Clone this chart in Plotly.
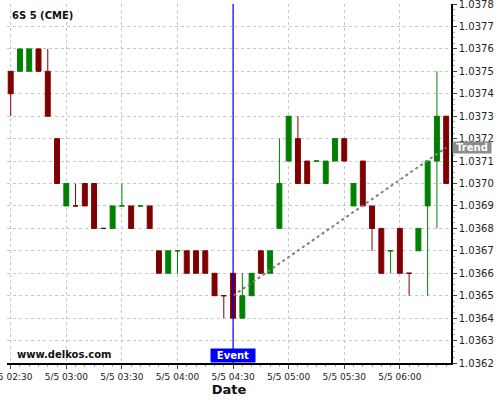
import plotly.graph_objects as go

times = [
    "2024-05-05 02:30", "2024-05-05 02:35", "2024-05-05 02:40", "2024-05-05 02:45",
    "2024-05-05 02:50", "2024-05-05 02:55", "2024-05-05 03:00", "2024-05-05 03:05",
    "2024-05-05 03:10", "2024-05-05 03:15", "2024-05-05 03:20", "2024-05-05 03:25",
    "2024-05-05 03:30", "2024-05-05 03:35", "2024-05-05 03:40", "2024-05-05 03:45",
    "2024-05-05 03:50", "2024-05-05 03:55", "2024-05-05 04:00", "2024-05-05 04:05",
    "2024-05-05 04:10", "2024-05-05 04:15", "2024-05-05 04:20", "2024-05-05 04:25",
    "2024-05-05 04:30", "2024-05-05 04:35", "2024-05-05 04:40", "2024-05-05 04:45",
    "2024-05-05 04:50", "2024-05-05 04:55", "2024-05-05 05:00", "2024-05-05 05:05",
    "2024-05-05 05:10", "2024-05-05 05:15", "2024-05-05 05:20", "2024-05-05 05:25",
    "2024-05-05 05:30", "2024-05-05 05:35", "2024-05-05 05:40", "2024-05-05 05:45",
    "2024-05-05 05:50", "2024-05-05 05:55", "2024-05-05 06:00", "2024-05-05 06:05",
    "2024-05-05 06:10", "2024-05-05 06:15", "2024-05-05 06:20", "2024-05-05 06:25",
]
opens = [1.0375, 1.0375, 1.0375, 1.0376, 1.0375, 1.0372, 1.0369, 1.0369,
         1.0370, 1.0370, 1.0368, 1.0368, 1.0369, 1.0369, 1.0369, 1.0369,
         1.0367, 1.0366, 1.0367, 1.0367, 1.0367, 1.0367, 1.0366, 1.0365,
         1.0366, 1.0364, 1.0365, 1.0367, 1.0366, 1.0368, 1.0371, 1.0372,
         1.0371, 1.0371, 1.0370, 1.0371, 1.0372, 1.0369, 1.0371, 1.0369,
         1.0368, 1.0367, 1.0368, 1.0366, 1.0367, 1.0369, 1.0371, 1.0373]
highs = [1.0375, 1.0376, 1.0376, 1.0376, 1.0376, 1.0372, 1.0370, 1.0370,
         1.0370, 1.0370, 1.0368, 1.0369, 1.0370, 1.0369, 1.0369, 1.0369,
         1.0367, 1.0367, 1.0367, 1.0367, 1.0367, 1.0367, 1.0366, 1.0365,
         1.0366, 1.0366, 1.0366, 1.0367, 1.0367, 1.0372, 1.0373, 1.0373,
         1.0371, 1.0371, 1.0371, 1.0372, 1.0372, 1.0370, 1.0371, 1.0369,
         1.0368, 1.0367, 1.0368, 1.0366, 1.0368, 1.0371, 1.0375, 1.0373]
lows = [1.0373, 1.0375, 1.0375, 1.0375, 1.0373, 1.0370, 1.0369, 1.0369,
        1.0369, 1.0368, 1.0368, 1.0368, 1.0369, 1.0368, 1.0369, 1.0368,
        1.0366, 1.0366, 1.0366, 1.0366, 1.0366, 1.0366, 1.0365, 1.0364,
        1.0364, 1.0364, 1.0365, 1.0366, 1.0366, 1.0368, 1.0371, 1.0370,
        1.0370, 1.0371, 1.0370, 1.0371, 1.0371, 1.0369, 1.0369, 1.0367,
        1.0366, 1.0366, 1.0366, 1.0365, 1.0367, 1.0365, 1.0368, 1.0370]
closes = [1.0374, 1.0376, 1.0376, 1.0375, 1.0373, 1.0370, 1.0370, 1.0369,
          1.0369, 1.0368, 1.0368, 1.0369, 1.0369, 1.0368, 1.0369, 1.0368,
          1.0366, 1.0367, 1.0367, 1.0366, 1.0366, 1.0366, 1.0365, 1.0365,
          1.0364, 1.0365, 1.0366, 1.0366, 1.0367, 1.0370, 1.0373, 1.0370,
          1.0370, 1.0371, 1.0371, 1.0372, 1.0371, 1.0370, 1.0369, 1.0368,
          1.0366, 1.0367, 1.0366, 1.0366, 1.0368, 1.0371, 1.0373, 1.0370]
# candle colour: "g" = up (green), "r" = down (red)
direction = ["r", "g", "g", "r", "r", "r", "g", "r",
             "r", "r", "r", "g", "g", "r", "g", "r",
             "r", "g", "g", "r", "r", "r", "r", "r",
             "r", "g", "g", "r", "g", "g", "g", "r",
             "r", "g", "g", "g", "r", "g", "r", "r",
             "r", "g", "r", "r", "g", "g", "g", "r"]

trend_x = ["2024-05-05 04:30", "2024-05-05 06:25"]
trend_y = [1.03650, 1.03716]
event_time = "2024-05-05 04:30"
y_ticks = [1.0362, 1.0363, 1.0364, 1.0365, 1.0366, 1.0367, 1.0368, 1.0369,
           1.0370, 1.0371, 1.0372, 1.0373, 1.0374, 1.0375, 1.0376, 1.0377, 1.0378]

GREEN = "#008000"
RED = "#800000"

fig = go.Figure()

fig.add_trace(go.Scatter(
    x=trend_x, y=trend_y, mode="lines",
    line=dict(color="#808080", width=2, dash="dot"),
    hoverinfo="skip", showlegend=False,
))

for key, col in (("g", GREEN), ("r", RED)):
    idx = [i for i, d in enumerate(direction) if d == key]
    fig.add_trace(go.Candlestick(
        x=[times[i] for i in idx],
        open=[opens[i] for i in idx],
        high=[highs[i] for i in idx],
        low=[lows[i] for i in idx],
        close=[closes[i] for i in idx],
        increasing=dict(line=dict(color=col, width=1), fillcolor=col),
        decreasing=dict(line=dict(color=col, width=1), fillcolor=col),
        whiskerwidth=0,
        showlegend=False,
    ))

fig.add_shape(type="line", xref="x", yref="paper", x0=event_time, x1=event_time,
              y0=0, y1=1, line=dict(color="#0000ff", width=1.2), layer="above")

fig.add_annotation(x=event_time, xref="x", y=0, yref="paper", yanchor="bottom",
                   text="<b>Event</b>", showarrow=False, bgcolor="#0000ff",
                   font=dict(color="white", size=10, family="DejaVu Sans"),
                   width=44, height=13, borderpad=0)

fig.add_annotation(x=1, xref="paper", xanchor="left", xshift=1, y=trend_y[1], yref="y",
                   text="<b>Trend</b>", showarrow=False, bgcolor="#8c8c8c",
                   font=dict(color="white", size=10, family="DejaVu Sans"),
                   width=38, height=11, borderpad=0)

fig.add_annotation(x=0.007, xref="paper", xanchor="left", y=0.968, yref="paper",
                   yanchor="middle", text="<b>6S 5 (CME)</b>", showarrow=False,
                   font=dict(color="#111111", size=10, family="DejaVu Sans"))

fig.add_annotation(x=0.018, xref="paper", xanchor="left", y=0.025, yref="paper",
                   yanchor="middle", text="<b>www.delkos.com</b>", showarrow=False,
                   font=dict(color="#111111", size=10, family="DejaVu Sans"))

fig.update_layout(
    width=500, height=400,
    margin=dict(l=7, r=49, t=4, b=37, autoexpand=False),
    paper_bgcolor="white", plot_bgcolor="white",
    font=dict(family="DejaVu Sans", color="#222222"),
    boxgap=0.24,
    hovermode=False,
    xaxis=dict(
        type="date",
        automargin=False,
        range=["2024-05-05 02:28:00", "2024-05-05 06:27:36"],
        rangeslider=dict(visible=False),
        tick0="2024-05-05 02:30", dtick=30 * 60 * 1000,
        tickformat="%-m/%-d %H:%M",
        tickfont=dict(size=9, color="#222222"),
        ticklabeloverflow="allow",
        ticks="outside", ticklen=4, tickcolor="#444444",
        minor=dict(dtick=5 * 60 * 1000, ticks="outside", ticklen=2,
                   tickcolor="#aaaaaa", showgrid=False),
        showgrid=True, gridcolor="#c8c8c8", griddash="3px,3px", gridwidth=1,
        showline=True, linecolor="black", linewidth=1.5,
        title=dict(text="<b>Date</b>", font=dict(size=13, color="#111111"), standoff=4),
        zeroline=False,
    ),
    yaxis=dict(
        side="right",
        automargin=False,
        range=[1.03620, 1.03780],
        tickvals=y_ticks,
        ticktext=[f"{v:.4f}" for v in y_ticks],
        tickfont=dict(size=10, color="#222222"),
        ticklabeloverflow="allow",
        ticks="outside", ticklen=4, tickcolor="#444444",
        minor=dict(dtick=0.000025, tick0=1.0362, ticks="outside", ticklen=2,
                   tickcolor="#aaaaaa", showgrid=False),
        showgrid=True, gridcolor="#c8c8c8", griddash="3px,3px", gridwidth=1,
        showline=True, linecolor="black", linewidth=1.5,
        zeroline=False,
    ),
)

fig.write_html("out.html", config={"displayModeBar": False},
               post_script="document.body.style.margin='0';document.body.style.overflow='hidden';")
